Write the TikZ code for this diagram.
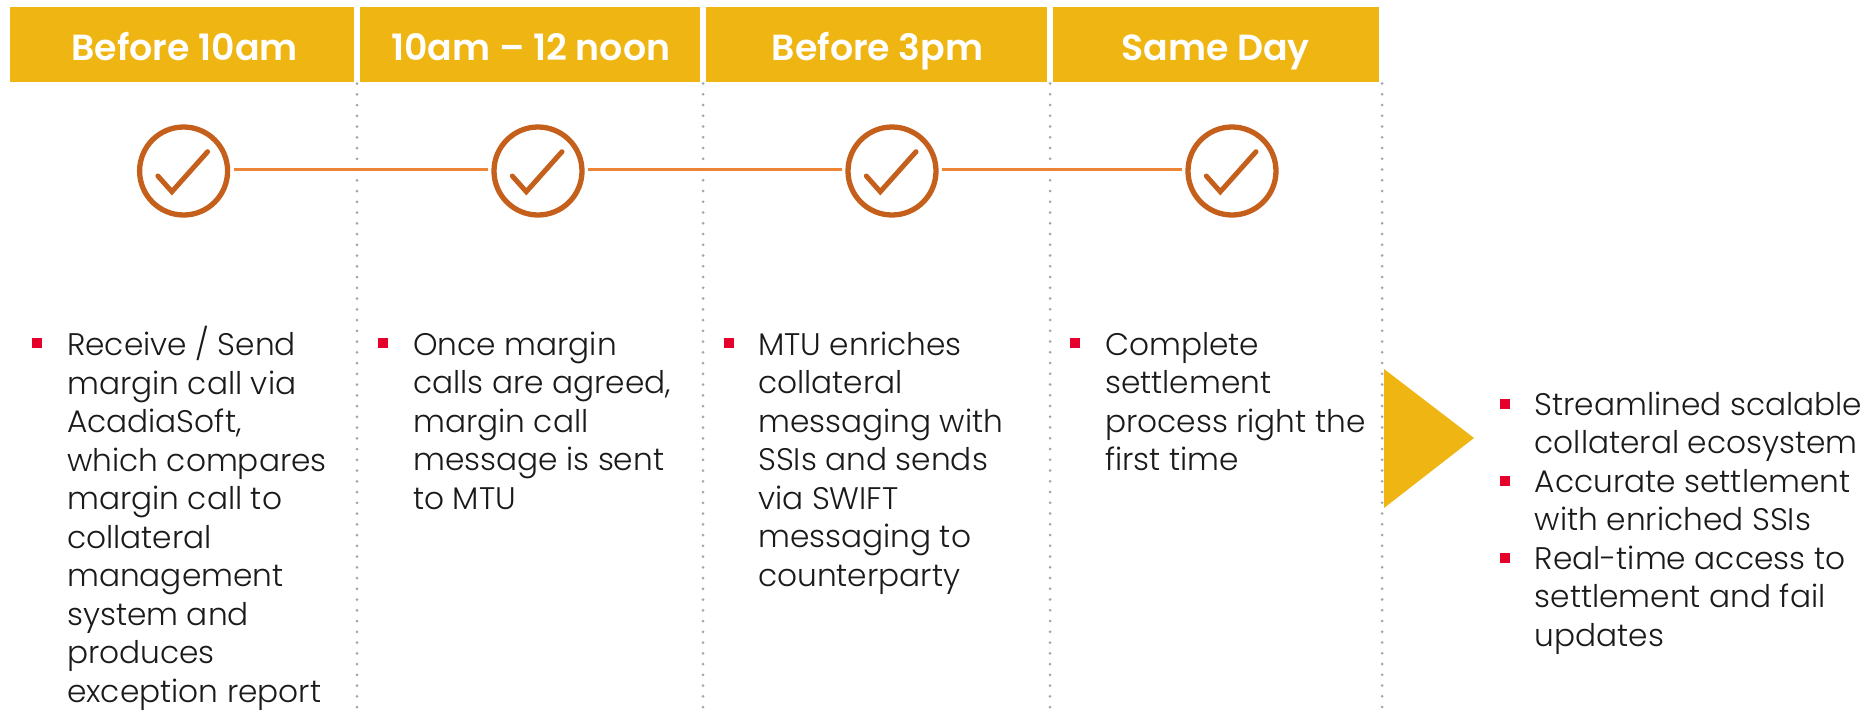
\documentclass[tikz,border=0pt]{standalone}
\usepackage{fontspec}
\setmainfont{Poppins Light}[BoldFont={Poppins SemiBold}]
\definecolor{hdr}{HTML}{EFB512}
\definecolor{ring}{HTML}{C5601C}
\definecolor{lnk}{HTML}{EE8435}
\definecolor{bul}{HTML}{E4002B}
\definecolor{dots}{HTML}{A6A6A6}
\definecolor{txt}{HTML}{1A1A1A}
\newcommand{\firstline}{\rule{0pt}{29pt}}
\tikzset{
 hdrbox/.style={fill=hdr,draw=none,inner sep=0,outer sep=0,anchor=north west,minimum height=75pt},
 hdrtext/.style={anchor=base,text=white,inner sep=0,font=\fontsize{36.3}{36.3}\selectfont\bfseries},
 ringnode/.style={circle,draw=ring,line width=5.3pt,minimum size=88pt,inner sep=0,outer sep=6pt},
 linkline/.style={draw=lnk,line width=2.6pt},
 sepline/.style={draw=dots,line width=3pt,line cap=round,dash pattern=on 0pt off 10.75pt},
 bulletbox/.style={fill=bul,draw=none,minimum size=10pt,inner sep=0,outer sep=0},
 bodytext/.style={anchor=north west,inner sep=0,align=left,text=txt,font=\fontsize{31.2}{38.5}\selectfont},
 tickmark/.style={draw=ring,line width=5pt,line cap=round,line join=miter}
}
\begin{document}
\begin{tikzpicture}[x=1pt,y=-1pt]
\useasboundingbox (0,0) rectangle (1875,713);
% headers
\node[hdrbox,minimum width=344pt] (h1) at (10,7) {};
\node[hdrbox,minimum width=340pt] (h2) at (360,7) {};
\node[hdrbox,minimum width=341pt] (h3) at (706,7) {};
\node[hdrbox,minimum width=326pt] (h4) at (1053,7) {};
\node[hdrtext] (t1) at (184.6,60) {Before 10am};
\node[hdrtext] (t2) at (530.7,60) {10am – 12 noon};
\node[hdrtext] (t3) at (877.6,60) {Before 3pm};
\node[hdrtext] (t4) at (1215.5,60) {Same Day};
% dotted separators
\coordinate (s1a) at (357,83.5); \coordinate (s1b) at (357,713);
\coordinate (s2a) at (703,83.5); \coordinate (s2b) at (703,713);
\coordinate (s3a) at (1050,83.5); \coordinate (s3b) at (1050,713);
\coordinate (s4a) at (1382,83.5); \coordinate (s4b) at (1382,713);
\draw[sepline] (s1a) -- (s1b);
\draw[sepline] (s2a) -- (s2b);
\draw[sepline] (s3a) -- (s3b);
\draw[sepline] (s4a) -- (s4b);
% rings
\node[ringnode] (c1) at (183.6,171) {};
\node[ringnode] (c2) at (538,171) {};
\node[ringnode] (c3) at (892,171) {};
\node[ringnode] (c4) at (1232,171) {};
\draw[linkline] ([yshift=1.5pt]c1.east) -- ([yshift=1.5pt]c2.west);
\draw[linkline] ([yshift=1.5pt]c2.east) -- ([yshift=1.5pt]c3.west);
\draw[linkline] ([yshift=1.5pt]c3.east) -- ([yshift=1.5pt]c4.west);
\foreach \n in {c1,c2,c3,c4}{
 \draw[tickmark] ([shift={(-25.7,5)}]\n.center) -- ([shift={(-11.7,20.7)}]\n.center) -- ([shift={(24,-19.3)}]\n.center);
}
% body bullets
\node[bulletbox] (b1) at (37,343) {};
\node[bulletbox] (b2) at (383,343) {};
\node[bulletbox] (b3) at (729,343) {};
\node[bulletbox] (b4) at (1075,343) {};
\node[bodytext] (p1) at (67,326) {\firstline Receive / Send\\margin call via\\AcadiaSoft,\\which compares\\margin call to\\collateral\\management\\system and\\produces\\exception report};
\node[bodytext] (p2) at (413,326) {\firstline Once margin\\calls are agreed,\\margin call\\message is sent\\to MTU};
\node[bodytext] (p3) at (758,326) {\firstline MTU enriches\\collateral\\messaging with\\SSIs and sends\\via SWIFT\\messaging to\\counterparty};
\node[bodytext] (p4) at (1105,326) {\firstline Complete\\settlement\\process right the\\first time};
% arrow triangle
\fill[hdr] (1384,369) -- (1474,438) -- (1384,508) -- cycle;
% outcomes
\node[bulletbox] (o1) at (1505,404) {};
\node[bulletbox] (o2) at (1505,481) {};
\node[bulletbox] (o3) at (1505,558) {};
\node[bodytext] (q1) at (1534.5,386) {\firstline Streamlined scalable\\collateral ecosystem\\Accurate settlement\\with enriched SSIs\\Real-time access to\\settlement and fail\\updates};
\end{tikzpicture}
\end{document}
